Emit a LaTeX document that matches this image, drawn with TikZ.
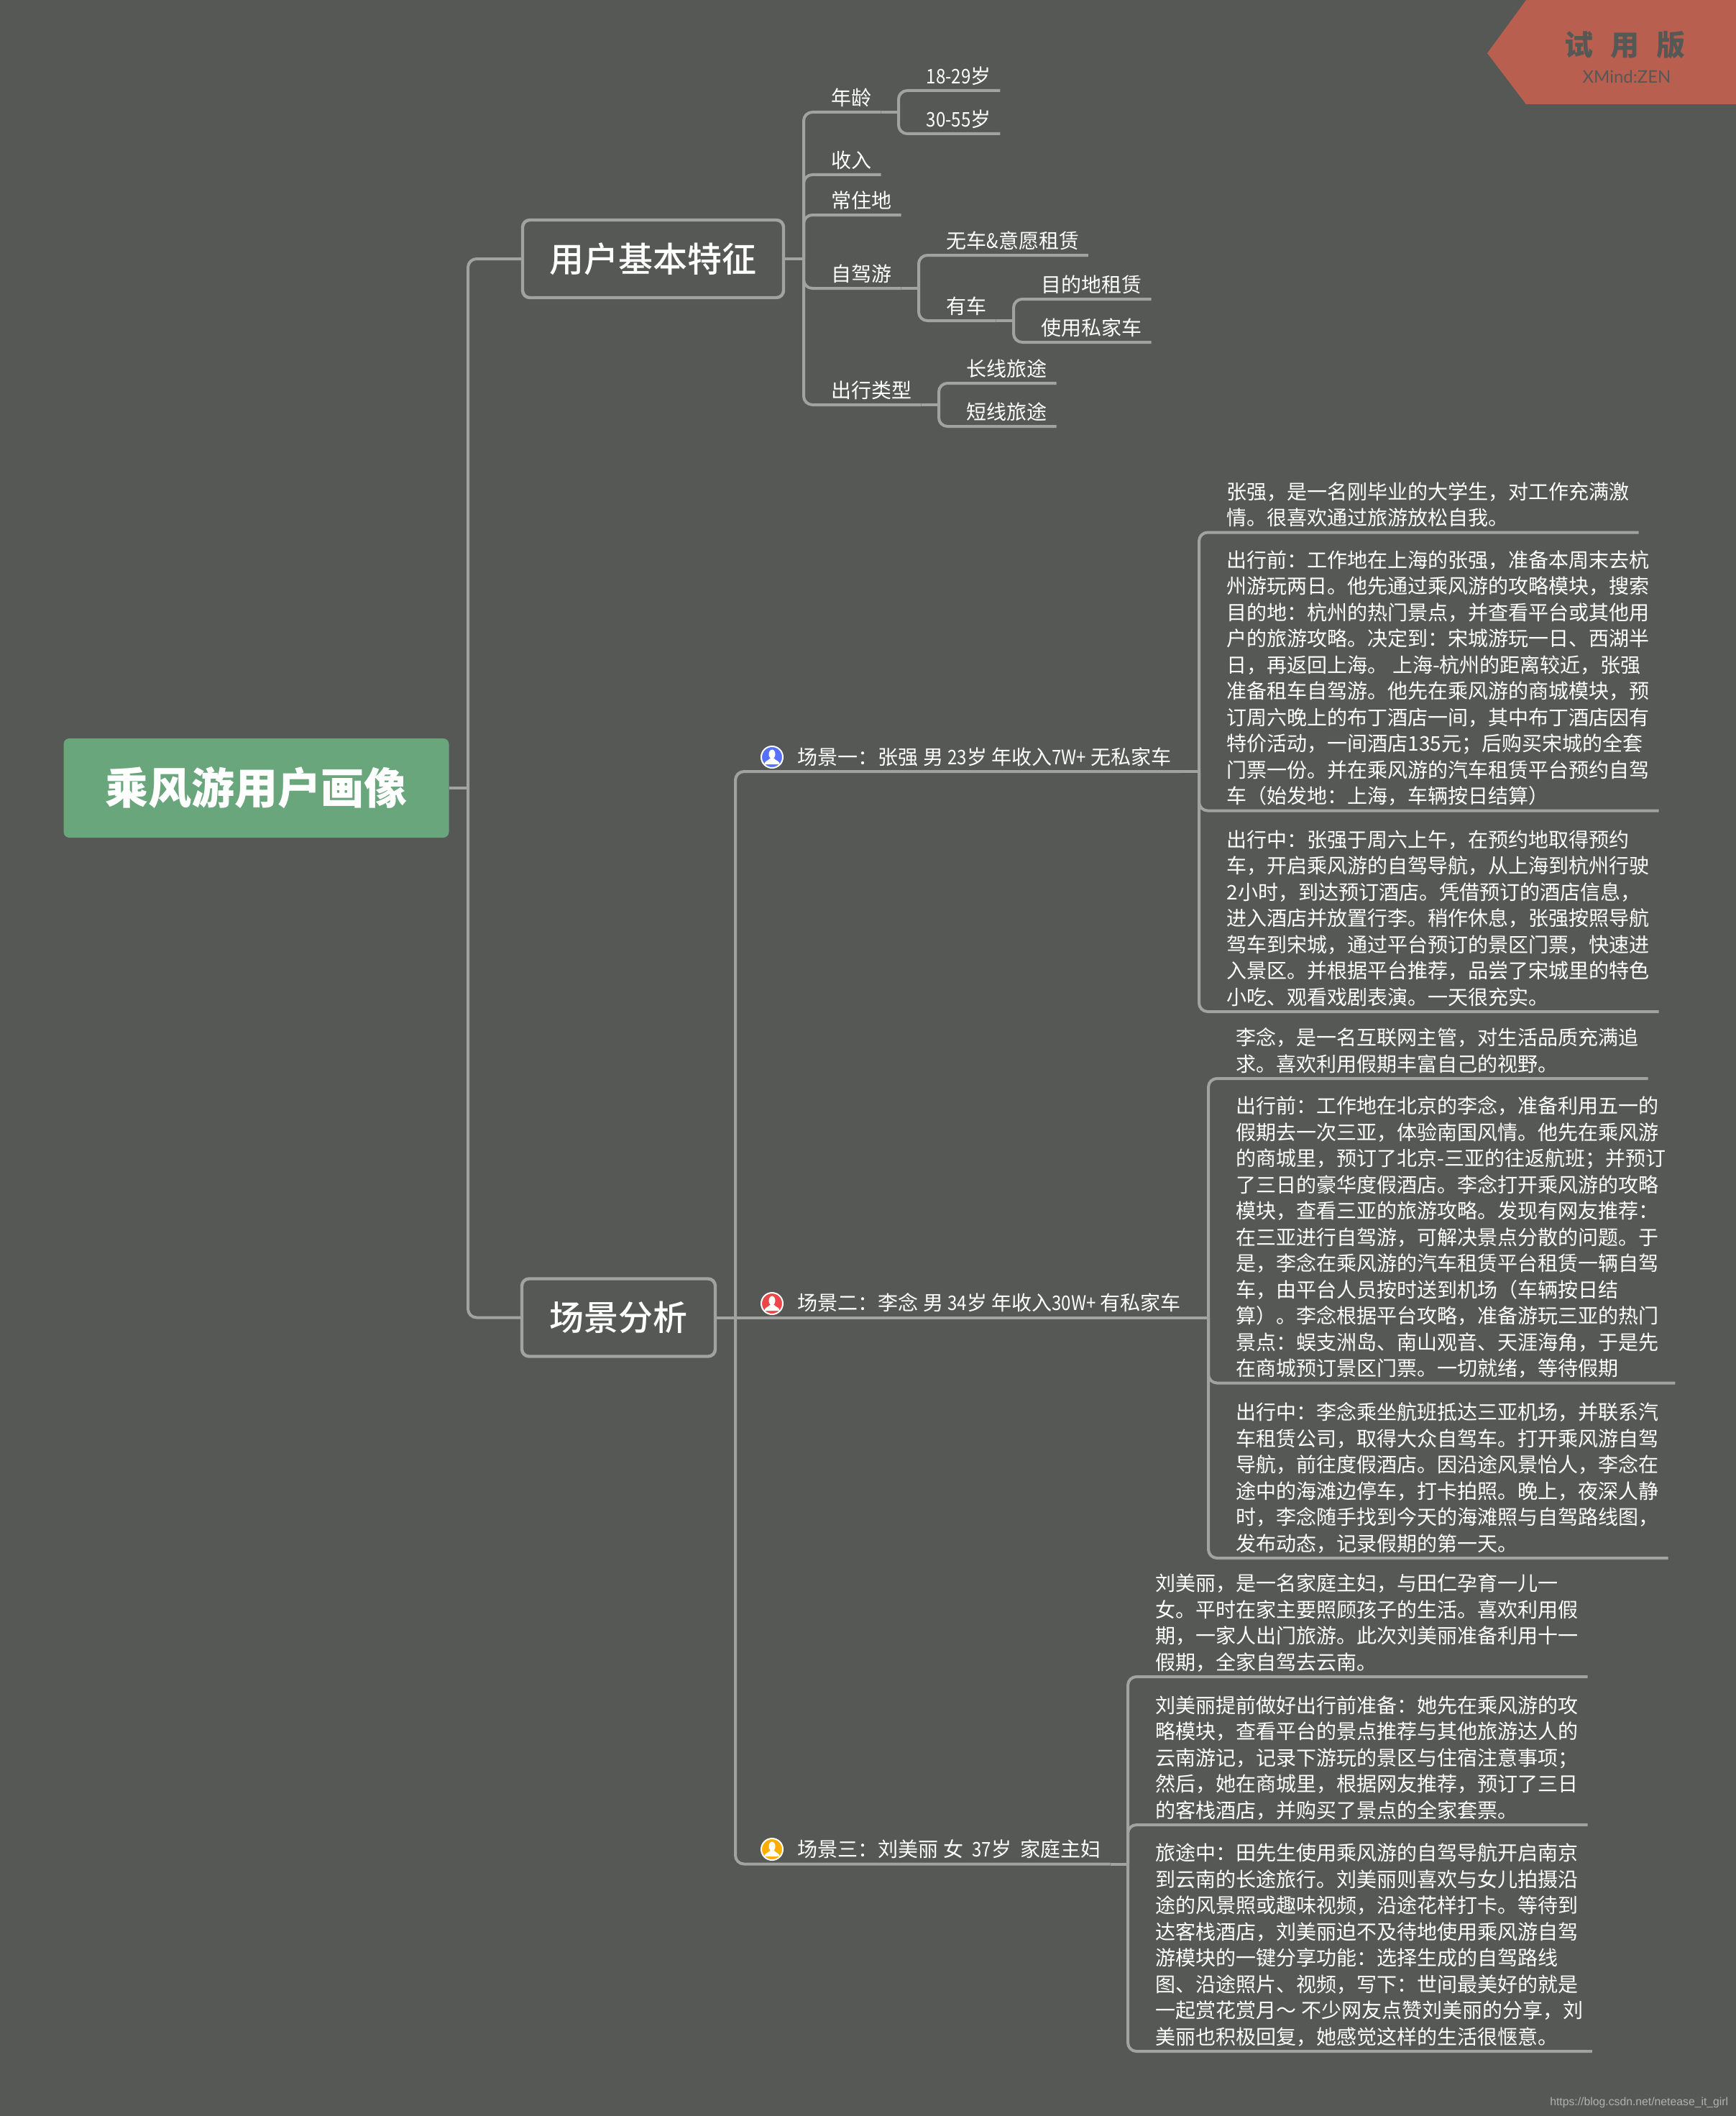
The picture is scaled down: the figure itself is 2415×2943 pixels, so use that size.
\documentclass[tikz,border=0pt]{standalone}
\usepackage{fontspec}
\usepackage{graphicx}
\setmainfont{Noto Sans CJK SC}
\newfontfamily\latinfont{Liberation Sans}
\newfontfamily\trialfont{Lato}
\newfontfamily\topicfont{Noto Sans CJK SC Medium}
\usepackage{tikz}
\definecolor{slatebg}{RGB}{86, 88, 85}
\definecolor{branchgray}{RGB}{160, 163, 159}
\definecolor{rootgreen}{RGB}{105, 166, 124}
\definecolor{trialred}{RGB}{185, 95, 80}
\definecolor{iconblue}{RGB}{88, 112, 255}
\definecolor{iconred}{RGB}{235, 70, 73}
\definecolor{iconorange}{RGB}{255, 174, 0}
\definecolor{urlgray}{RGB}{176, 178, 176}
\newcommand{\slim}[1]{\scalebox{0.86}[1]{#1}}
\tikzset{
    link/.style={branchgray, line width=1pt, rounded corners=3pt},
    rootbox/.style={fill=rootgreen, rounded corners=2pt, minimum width=134pt, minimum height=34.5pt, text=white, font=\fontsize{15}{18}\selectfont\bfseries},
    mainbox/.style={draw=branchgray, line width=1.1pt, rounded corners=2.5pt, minimum height=27pt, text=white, font=\fontsize{12}{15}\topicfont},
    topic/.style={anchor=south west, xshift=6.5pt, inner xsep=3pt, inner ysep=2.25pt, text depth=0pt, align=left, text=white, font=\fontsize{7}{9.125}\selectfont},
    scene/.style={topic, xshift=12pt},
    icondisc/.style={circle, draw=white, line width=0.5pt, minimum size=7.5pt, inner sep=0pt},
}
\begin{document}
\begin{tikzpicture}[x=0.25pt, y=-0.25pt]
            \useasboundingbox (0,0) rectangle (2415,2943);
            \fill[slatebg] (0,0) rectangle (2415,2943);
            \fill[trialred] (2123,0) -- (2069,74) -- (2123,145) -- (2415,145) -- (2415,0) -- cycle;
            \node[text=slatebg, font=\fontsize{10}{12}\selectfont\bfseries] (trialmark) at (2260,63) {试\hspace{6pt}用\hspace{6pt}版};
            \node[text=slatebg, font=\fontsize{6}{7}\trialfont] (trialname) at (2263,107) {XMind:ZEN};
            \node[text=urlgray, anchor=east, inner sep=0pt, font=\fontsize{3.94}{5}\latinfont] (blogurl) at (2405,2924) {https://blog.csdn.net/netease\_it\_girl};

            \node[rootbox] (root) at (356.5,1096) {乘风游用户画像};
            \node[mainbox, minimum width=90.75pt] (traits) at (908.5,360) {用户基本特征};
            \node[mainbox, minimum width=67.25pt] (scenes) at (860.5,1832.5) {场景分析};

            \coordinate (rootfork) at (651,1096);
            \coordinate (traitfork) at (1118,360);
            \coordinate (scenefork) at (1023,1832.5);
            \coordinate (agefork) at (1250,156);
            \coordinate (drivefork) at (1278,401);
            \coordinate (carfork) at (1410,446);
            \coordinate (tripfork) at (1306,563);
            \coordinate (onefork) at (1668,1073);
            \coordinate (twofork) at (1681,1832.5);
            \coordinate (threefork) at (1569,2592.5);

            \node[topic] (age) at (1118,156) {年龄};
            \node[topic] (youth) at (1250,126) {\slim{18-29}岁};
            \node[topic] (adult) at (1250,186) {\slim{30-55}岁};
            \node[topic] (income) at (1118,243) {收入};
            \node[topic] (home) at (1118,299) {常住地};
            \node[topic] (drive) at (1118,401) {自驾游};
            \node[topic] (nocar) at (1278,355) {无车\slim{\&}意愿租赁};
            \node[topic] (hascar) at (1278,446) {有车};
            \node[topic] (rental) at (1410,416) {目的地租赁};
            \node[topic] (owncar) at (1410,476) {使用私家车};
            \node[topic] (triptype) at (1118,563) {出行类型};
            \node[topic] (longtrip) at (1306,533) {长线旅途};
            \node[topic] (shorttrip) at (1306,593) {短线旅途};

            \node[scene] (sceneone) at (1023,1073) {场景一：张强 男 \slim{23}岁 年收入\slim{7W+} 无私家车};
            \node[scene] (scenetwo) at (1023,1832.5) {场景二：李念 男 \slim{34}岁 年收入\slim{30W+} 有私家车};
            \node[scene] (scenethree) at (1023,2592.5) {场景三：刘美丽 女\ \ \slim{37}岁\ \ 家庭主妇};
            \node[icondisc, fill=iconblue] (iconone) at (1074,1053) {};
            \node[icondisc, fill=iconred] (icontwo) at (1074,1813) {};
            \node[icondisc, fill=iconorange] (iconthree) at (1074,2572) {};
            \foreach \icon in {iconone,icontwo,iconthree} {
                \fill[white, shift={(\icon.center)}] (0,-4) ellipse (4.5 and 6.5);
                \fill[white, shift={(\icon.center)}] (-10.5,10) .. controls (-10.5,5) and (-5,5) .. (-3,2) -- (3,2) .. controls (5,5) and (10.5,5) .. (10.5,10) -- cycle;
            }

            \node[topic] (onebio) at (1668,740.5) {张强，是一名刚毕业的大学生，对工作充满激\\情。很喜欢通过旅游放松自我。};
            \node[topic] (oneplan) at (1668,1127.5) {出行前：工作地在上海的张强，准备本周末去杭\\州游玩两日。他先通过乘风游的攻略模块，搜索\\目的地：杭州的热门景点，并查看平台或其他用\\户的旅游攻略。决定到：宋城游玩一日、西湖半\\日，再返回上海。 上海-杭州的距离较近，张强\\准备租车自驾游。他先在乘风游的商城模块，预\\订周六晚上的布丁酒店一间，其中布丁酒店因有\\特价活动，一间酒店135元；后购买宋城的全套\\门票一份。并在乘风游的汽车租赁平台预约自驾\\车（始发地：上海，车辆按日结算）};
            \node[topic] (onetrip) at (1668,1407) {出行中：张强于周六上午，在预约地取得预约\\车，开启乘风游的自驾导航，从上海到杭州行驶\\2小时，到达预订酒店。凭借预订的酒店信息，\\进入酒店并放置行李。稍作休息，张强按照导航\\驾车到宋城，通过平台预订的景区门票，快速进\\入景区。并根据平台推荐，品尝了宋城里的特色\\小吃、观看戏剧表演。一天很充实。};

            \node[topic] (twobio) at (1681,1500) {李念，是一名互联网主管，对生活品质充满追\\求。喜欢利用假期丰富自己的视野。};
            \node[topic] (twoplan) at (1681,1923.5) {出行前：工作地在北京的李念，准备利用五一的\\假期去一次三亚，体验南国风情。他先在乘风游\\的商城里，预订了北京-三亚的往返航班；并预订\\了三日的豪华度假酒店。李念打开乘风游的攻略\\模块，查看三亚的旅游攻略。发现有网友推荐：\\在三亚进行自驾游，可解决景点分散的问题。于\\是，李念在乘风游的汽车租赁平台租赁一辆自驾\\车，由平台人员按时送到机场（车辆按日结\\算）。李念根据平台攻略，准备游玩三亚的热门\\景点：蜈支洲岛、南山观音、天涯海角，于是先\\在商城预订景区门票。一切就绪，等待假期};
            \node[topic] (twotrip) at (1681,2167) {出行中：李念乘坐航班抵达三亚机场，并联系汽\\车租赁公司，取得大众自驾车。打开乘风游自驾\\导航，前往度假酒店。因沿途风景怡人，李念在\\途中的海滩边停车，打卡拍照。晚上，夜深人静\\时，李念随手找到今天的海滩照与自驾路线图，\\发布动态，记录假期的第一天。};

            \node[topic] (threebio) at (1569,2332) {刘美丽，是一名家庭主妇，与田仁孕育一儿一\\女。平时在家主要照顾孩子的生活。喜欢利用假\\期，一家人出门旅游。此次刘美丽准备利用十一\\假期，全家自驾去云南。};
            \node[topic] (threeplan) at (1569,2538) {刘美丽提前做好出行前准备：她先在乘风游的攻\\略模块，查看平台的景点推荐与其他旅游达人的\\云南游记，记录下游玩的景区与住宿注意事项；\\然后，她在商城里，根据网友推荐，预订了三日\\的客栈酒店，并购买了景点的全家套票。};
            \node[topic] (threetrip) at (1569,2853) {旅途中：田先生使用乘风游的自驾导航开启南京\\到云南的长途旅行。刘美丽则喜欢与女儿拍摄沿\\途的风景照或趣味视频，沿途花样打卡。等待到\\达客栈酒店，刘美丽迫不及待地使用乘风游自驾\\游模块的一键分享功能：选择生成的自驾路线\\图、沿途照片、视频，写下：世间最美好的就是\\一起赏花赏月～ 不少网友点赞刘美丽的分享，刘\\美丽也积极回复，她感觉这样的生活很惬意。};

            \draw[link] (root.east) -- (rootfork);
            \draw[link] (traits.east) -- (traitfork);
            \draw[link] (scenes.east) -- (scenefork);
            \draw[link] (rootfork) |- (traits.west);
            \draw[link] (rootfork) |- (scenes.west);
            \foreach \kid in {age,income,home,drive,triptype}
                \draw[link] (traitfork) |- (\kid.south east);
            \draw[link] (age.south east) -- (agefork);
            \draw[link] (drive.south east) -- (drivefork);
            \draw[link] (hascar.south east) -- (carfork);
            \draw[link] (triptype.south east) -- (tripfork);
            \foreach \kid in {youth,adult}
                \draw[link] (agefork) |- (\kid.south east);
            \foreach \kid in {nocar,hascar}
                \draw[link] (drivefork) |- (\kid.south east);
            \foreach \kid in {rental,owncar}
                \draw[link] (carfork) |- (\kid.south east);
            \foreach \kid in {longtrip,shorttrip}
                \draw[link] (tripfork) |- (\kid.south east);
            \draw[link] (scenefork) |- (sceneone.south east);
            \draw[link] (scenefork) -- (scenetwo.south east);
            \draw[link] (scenefork) |- (scenethree.south east);
            \draw[link] (sceneone.south east) -- (onefork);
            \draw[link] (scenetwo.south east) -- (twofork);
            \draw[link] (scenethree.south east) -- (threefork);
            \foreach \kid in {onebio,oneplan,onetrip}
                \draw[link] (onefork) |- (\kid.south east);
            \foreach \kid in {twobio,twoplan,twotrip}
                \draw[link] (twofork) |- (\kid.south east);
            \foreach \kid in {threebio,threeplan,threetrip}
                \draw[link] (threefork) |- (\kid.south east);
        \end{tikzpicture}
\end{document}
